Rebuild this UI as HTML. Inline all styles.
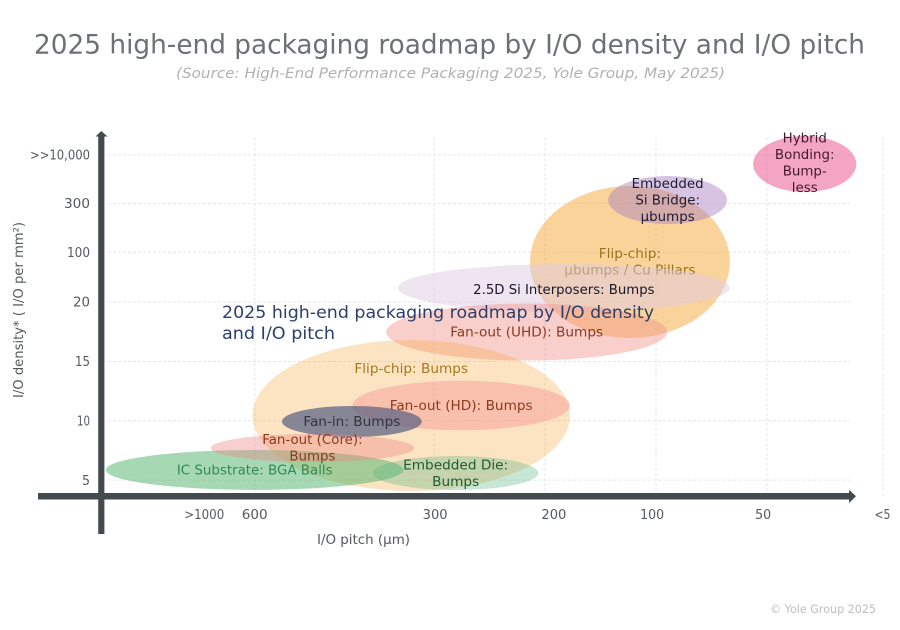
<!DOCTYPE html>
<html lang="en">
<head>
<meta charset="utf-8">
<title>2025 high-end packaging roadmap</title>
<style>
html,body{margin:0;padding:0;background:#fff;width:900px;height:630px;overflow:hidden}
svg{display:block}
text{font-family:"DejaVu Sans","Liberation Sans",sans-serif}
</style>
</head>
<body>
<svg id="chart" width="900" height="630" viewBox="0 0 900 630" xmlns="http://www.w3.org/2000/svg">
  <rect width="900" height="630" fill="#fff"/>
  <text x="449.5" y="53.5" text-anchor="middle" font-size="26.5" fill="#6d7176" textLength="831" lengthAdjust="spacingAndGlyphs">2025 high-end packaging roadmap by I/O density and I/O pitch</text>
  <text x="450.5" y="78" text-anchor="middle" font-size="14" font-style="italic" fill="#afb1b4" textLength="549" lengthAdjust="spacingAndGlyphs">(Source: High-End Performance Packaging 2025, Yole Group, May 2025)</text>
  <g id="grid"></g>
  <g id="bubbles"></g>
  <g id="axes">
    <rect x="38" y="493" width="811" height="6.5" fill="#434b4f"/>
    <polygon points="849,489.8 856,496.3 849,503" fill="#434b4f"/>
    <rect x="98.2" y="135" width="6.2" height="399" fill="#434b4f"/>
    <polygon points="95.5,136.5 101.3,131 107.5,136.5" fill="#434b4f"/>
  </g>
  <g id="ticks"></g>
  <text x="363.5" y="544" text-anchor="middle" font-size="13" fill="#55595d" textLength="93" lengthAdjust="spacingAndGlyphs">I/O pitch (µm)</text>
  <text transform="translate(23,310) rotate(-90)" text-anchor="middle" font-size="13" fill="#55595d" textLength="176" lengthAdjust="spacingAndGlyphs">I/O density* ( I/O per mm²)</text>
  <text x="222" y="318" font-size="17" fill="#2b3f6c" textLength="432" lengthAdjust="spacingAndGlyphs">2025 high-end packaging roadmap by I/O density</text>
  <text x="222" y="339" font-size="17" fill="#2b3f6c" textLength="113" lengthAdjust="spacingAndGlyphs">and I/O pitch</text>
  <text x="876" y="613" text-anchor="end" font-size="11.5" fill="#bcbec0" textLength="106" lengthAdjust="spacingAndGlyphs">© Yole Group 2025</text>
</svg>
<script>
// Chart data (axis units: x is a linear 0-15 pitch scale, y a linear density scale with custom tick labels)
const xTickLabels = ['>1000', '600', '300', '200', '100', '50', '<5'];
const xTickLabelValues = [1.86, 2.77, 6.02, 8.16, 9.93, 11.93, 14.08];
const xGridValues = [2.77, 6, 8, 10, 12, 14.09];
const yTickLabels = ['5', '10', '15', '20', '100', '300', '>>10,000'];
const yTickValues = [5, 10, 15, 20, 24.2, 28.3, 32.4];
const bubbleNames = ['flip-chip-microbumps', 'embedded-si-bridge', 'hybrid-bonding', 'si-interposers', 'fan-out-uhd', 'flip-chip-bumps', 'fan-out-hd', 'fan-in', 'ic-substrate', 'fan-out-core', 'embedded-die'];
const bubbleX = [9.53, 10.21, 12.68, 8.34, 7.67, 5.59, 6.49, 4.52, 2.77, 3.81, 6.39];
const bubbleY = [23.38, 28.60, 31.63, 21.19, 17.48, 10.45, 11.29, 9.94, 5.86, 7.71, 5.60];
const bubbleXRadius = [1.80, 1.07, 0.93, 2.99, 2.53, 2.86, 1.96, 1.26, 2.68, 1.83, 1.49];
const bubbleYRadius = [6.40, 2.02, 2.36, 2.02, 2.40, 6.36, 2.08, 1.31, 1.68, 1.18, 1.43];
const bubbleLabels = [
  ['Flip-chip:', 'µbumps / Cu Pillars'],
  ['Embedded', 'Si Bridge:', 'µbumps'],
  ['Hybrid', 'Bonding:', 'Bump-', 'less'],
  ['2.5D Si Interposers: Bumps'],
  ['Fan-out (UHD): Bumps'],
  ['Flip-chip: Bumps'],
  ['Fan-out (HD): Bumps'],
  ['Fan-in: Bumps'],
  ['IC Substrate: BGA Balls'],
  ['Fan-out (Core):', 'Bumps'],
  ['Embedded Die:', 'Bumps']
];

// Styling, kept apart from the data
const bubbleFills = ['#f6a735', '#a77cc0', '#ea4c89', '#decce2', '#f2958e', '#f6a735', '#f89b99', '#555e80', '#4db169', '#ee8787', '#5fb884'];
const bubbleAlphas = [0.5, 0.45, 0.5, 0.5, 0.45, 0.3, 0.5, 0.7, 0.5, 0.4, 0.35];
const labelColors = ['#96741f', '#1d1c38', '#43182f', '#17172e', '#8c3a1e', '#a67a1c', '#8c3a1e', '#33353c', '#2f8a58', '#8c3a1e', '#1f5c36'];
const labelShift = [0, 0, -1.5, 1.5, 0, -47, 0, 0, 0, 0, 0];
const labelStretch = [1.05, 1.03, 1.03, 1.02, 1.05, 1.05, 1.05, 1.05, 1.03, 1.03, 1.05];
const lineHeight = 16.5;
const xTickWidths = [40, 26, 25, 25, 24, 16, 16];
const yTickWidths = [8, 13, 15, 17, 23, 26, 60];

const SVGNS = 'http://www.w3.org/2000/svg';
const xAxis = function (v) { return 101 + 55.5 * v; };
const yAxis = function (v) { return 539.5 - 11.87 * v; };
const gridG = document.getElementById('grid');
const bubblesG = document.getElementById('bubbles');
const ticksG = document.getElementById('ticks');

yTickValues.forEach(function (v, i) {
  const line = document.createElementNS(SVGNS, 'line');
  
  
  line.setAttribute('x1', 108);
  line.setAttribute('x2', 850);
  line.setAttribute('y1', yAxis(v));
  line.setAttribute('y2', yAxis(v));
  line.setAttribute('stroke', '#e6e6e6');
  line.setAttribute('stroke-dasharray', '3 2');
  gridG.appendChild(line);

  const label = document.createElementNS(SVGNS, 'text');
  
  
  label.setAttribute('x', 90);
  label.setAttribute('y', yAxis(v) + 4.6);
  label.setAttribute('text-anchor', 'end');
  label.setAttribute('font-size', '13');
  label.setAttribute('fill', '#55595d');
  label.setAttribute('textLength', yTickWidths[i]);
  label.setAttribute('lengthAdjust', 'spacingAndGlyphs');
  label.textContent = yTickLabels[i];
  ticksG.appendChild(label);
});

xGridValues.forEach(function (v) {
  const line = document.createElementNS(SVGNS, 'line');
  
  
  line.setAttribute('x1', xAxis(v));
  line.setAttribute('x2', xAxis(v));
  line.setAttribute('y1', 138);
  line.setAttribute('y2', 497);
  line.setAttribute('stroke', '#e6e6e6');
  line.setAttribute('stroke-dasharray', '3 2');
  gridG.appendChild(line);
});

xTickLabelValues.forEach(function (v, i) {
  const label = document.createElementNS(SVGNS, 'text');
  
  
  label.setAttribute('x', xAxis(v));
  label.setAttribute('y', 519);
  label.setAttribute('text-anchor', 'middle');
  label.setAttribute('font-size', '13');
  label.setAttribute('fill', '#55595d');
  label.setAttribute('textLength', xTickWidths[i]);
  label.setAttribute('lengthAdjust', 'spacingAndGlyphs');
  label.textContent = xTickLabels[i];
  ticksG.appendChild(label);
});

bubbleX.forEach(function (v, i) {
  const cx = xAxis(v);
  const cy = yAxis(bubbleY[i]);
  const ellipse = document.createElementNS(SVGNS, 'ellipse');
  
  
  ellipse.setAttribute('cx', cx);
  ellipse.setAttribute('cy', cy);
  ellipse.setAttribute('rx', bubbleXRadius[i] * 55.5);
  ellipse.setAttribute('ry', bubbleYRadius[i] * 11.87);
  ellipse.setAttribute('fill', bubbleFills[i]);
  ellipse.setAttribute('fill-opacity', bubbleAlphas[i]);
  bubblesG.appendChild(ellipse);

  const lines = bubbleLabels[i];
  lines.forEach(function (str, j) {
    const text = document.createElementNS(SVGNS, 'text');
    
    
    text.setAttribute('x', cx);
    text.setAttribute('y', cy - (lines.length - 1) * lineHeight / 2 + 4.5 + labelShift[i] + j * lineHeight);
    text.setAttribute('text-anchor', 'middle');
    text.setAttribute('font-size', '13');
    text.setAttribute('fill', labelColors[i]);
    text.textContent = str;
    bubblesG.appendChild(text);
    text.setAttribute('textLength', text.getComputedTextLength() * labelStretch[i]);
    text.setAttribute('lengthAdjust', 'spacingAndGlyphs');
  });
});
</script>
</body>
</html>
